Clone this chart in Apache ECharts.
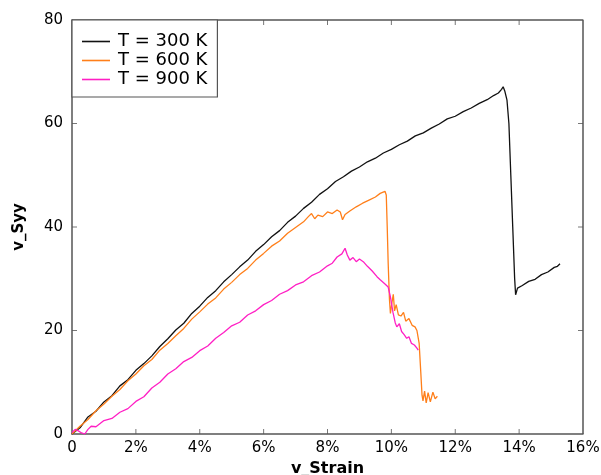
<!DOCTYPE html>
<html><head><meta charset="utf-8">
<script src="https://cdn.jsdelivr.net/npm/echarts@6/dist/echarts.min.js"></script>
<style>html,body{margin:0;padding:0;background:#fff}#c{width:601px;height:475px}</style>
</head><body><div id="c"></div>
<script>
const seriesNames = ['T = 300 K', 'T = 600 K', 'T = 900 K'];
const xTicks = [0, 2, 4, 6, 8, 10, 12, 14, 16];
const yTicks = [0, 20, 40, 60, 80];
const xRange = [0, 16];
const yRange = [0, 80];
// [strain %, Syy]
const t300 = [[0,0],[0.25,1.2],[0.5,3.3],[0.75,4.4],[1,6.2],[1.25,7.4],[1.5,9.3],[1.75,10.5],[2,12.3],[2.25,13.6],[2.5,15.1],[2.75,16.9],[3,18.4],[3.25,20.1],[3.5,21.4],[3.75,23.3],[4,24.7],[4.25,26.4],[4.5,27.7],[4.75,29.4],[5,30.8],[5.25,32.3],[5.5,33.6],[5.75,35.3],[6,36.6],[6.25,38.1],[6.5,39.3],[6.75,40.9],[7,42.1],[7.25,43.6],[7.5,44.8],[7.75,46.3],[8,47.4],[8.25,48.8],[8.5,49.7],[8.75,50.8],[9,51.6],[9.25,52.6],[9.5,53.3],[9.75,54.3],[10,55.0],[10.25,55.9],[10.5,56.6],[10.75,57.6],[11,58.2],[11.25,59.1],[11.5,59.9],[11.75,60.9],[12,61.4],[12.25,62.3],[12.5,63.0],[12.75,63.9],[13,64.6],[13.2,65.4],[13.35,65.9],[13.45,66.6],[13.5,67.1],[13.55,66.3],[13.62,64.5],[13.68,60],[13.74,50],[13.8,40],[13.86,30],[13.89,26.9],[13.95,28.2],[14.1,28.7],[14.3,29.5],[14.5,29.9],[14.7,30.8],[14.9,31.3],[15.1,32.2],[15.2,32.4],[15.28,32.9]];
const t600 = [[0,0],[0.25,1.5],[0.5,2.8],[0.75,4.5],[1,5.8],[1.25,7.3],[1.5,8.6],[1.75,10.3],[2,11.6],[2.25,13.2],[2.5,14.4],[2.75,16.2],[3,17.5],[3.25,19.0],[3.5,20.4],[3.75,22.2],[4,23.6],[4.25,25.1],[4.5,26.3],[4.75,28.0],[5,29.3],[5.25,30.8],[5.5,32.0],[5.75,33.6],[6,34.9],[6.25,36.3],[6.5,37.3],[6.75,38.8],[7,39.9],[7.25,41.0],[7.4,42.0],[7.5,42.6],[7.6,41.6],[7.7,42.3],[7.85,42.0],[8,42.9],[8.15,42.6],[8.3,43.3],[8.4,42.9],[8.47,41.4],[8.55,42.4],[8.7,43.1],[8.9,43.9],[9.1,44.6],[9.3,45.2],[9.5,45.8],[9.65,46.5],[9.8,46.9],[9.84,46.2],[9.87,40],[9.9,33],[9.94,26],[9.97,23.3],[10.02,25.5],[10.06,27.0],[10.1,23.8],[10.15,25.0],[10.22,23.0],[10.3,22.8],[10.38,23.5],[10.45,21.8],[10.55,22.3],[10.65,21.0],[10.74,20.7],[10.8,20.0],[10.87,17.5],[10.92,12],[10.96,7.5],[10.99,6.4],[11.04,8.3],[11.09,6.0],[11.15,8.0],[11.22,6.2],[11.3,8.1],[11.37,6.8],[11.44,7.3]];
const t900 = [[0,0.3],[0.1,0.9],[0.2,0.6],[0.3,0.2],[0.4,0],[0.5,0.9],[0.6,1.5],[0.75,1.4],[1,2.6],[1.25,3.0],[1.5,4.2],[1.75,4.9],[2,6.3],[2.25,7.2],[2.5,8.9],[2.75,10.0],[3,11.6],[3.25,12.6],[3.5,14.0],[3.75,14.8],[4,16.1],[4.25,17.0],[4.5,18.5],[4.75,19.6],[5,20.9],[5.25,21.6],[5.5,23.0],[5.75,23.8],[6,25.0],[6.25,25.8],[6.5,27.0],[6.75,27.7],[7,28.8],[7.25,29.4],[7.5,30.6],[7.75,31.3],[8,32.5],[8.15,33.0],[8.3,34.2],[8.45,34.8],[8.55,35.9],[8.62,34.6],[8.7,33.6],[8.8,34.1],[8.9,33.3],[9.0,33.8],[9.12,33.3],[9.25,32.4],[9.4,31.5],[9.55,30.4],[9.65,29.8],[9.8,29.0],[9.9,28.4],[9.97,26.5],[10.05,23.5],[10.12,21.5],[10.17,20.7],[10.25,21.3],[10.32,19.8],[10.4,19.2],[10.48,18.5],[10.55,18.8],[10.63,17.5],[10.72,17.2],[10.8,16.6],[10.84,16.2]];
const colors = ['#111111', '#ff7f1a', '#ff1fc4'];

const FONT = '"DejaVu Sans", sans-serif';
const FRAME = '#555555';
const chart = echarts.init(document.getElementById('c'));

// frame (top + right edges) and inward tick marks, placed through the axes
const frameSeries = {
  name: 'frame', type: 'line', silent: true, clip: false, showSymbol: false, symbol: 'none', z: 1,
  data: [[xRange[0], yRange[1]], [xRange[1], yRange[1]], [xRange[1], yRange[0]]],
  lineStyle: {color: FRAME, width: 1.5}, itemStyle: {color: FRAME}, tooltip: {show: false}
};
const tickSeries = (data, size, offset) => ({
  type: 'scatter', silent: true, clip: false, symbol: 'rect', symbolSize: size, symbolOffset: offset,
  data: data, itemStyle: {color: FRAME}, z: 1, tooltip: {show: false}
});

chart.setOption({
  animation: false,
  grid: {left: 72, right: 18, top: 20, bottom: 41, outerBoundsMode: 'none', containLabel: false},
  legend: {
    data: seriesNames, orient: 'vertical', left: 72, top: 20,
    itemWidth: 28, itemHeight: 1.6, itemGap: 0, icon: 'rect',
    padding: [12, 10, 8, 10],
    backgroundColor: '#fff', borderColor: FRAME, borderWidth: 1.2,
    textStyle: {fontFamily: FONT, fontSize: 18, color: '#000', lineHeight: 19, padding: [0, 0, 0, 3]}
  },
  xAxis: {type: 'value', min: xRange[0], max: xRange[1], interval: 2,
    axisLine: {show: true, onZero: false, lineStyle: {color: FRAME, width: 1.5}},
    axisTick: {show: false}, splitLine: {show: false},
    name: 'v_Strain', nameLocation: 'middle', nameGap: 27,
    nameTextStyle: {fontFamily: FONT, fontSize: 16, fontWeight: 'bold', color: '#000'},
    axisLabel: {fontFamily: FONT, fontSize: 15, color: '#000', margin: 7,
      formatter: v => (v === 0 ? '0' : v + '%')}},
  yAxis: {type: 'value', min: yRange[0], max: yRange[1], interval: 20,
    axisLine: {show: true, onZero: false, lineStyle: {color: FRAME, width: 1.5}},
    axisTick: {show: false}, splitLine: {show: false},
    name: 'v_Syy', nameLocation: 'middle', nameGap: 45,
    nameTextStyle: {fontFamily: FONT, fontSize: 15, fontWeight: 'bold', color: '#000'},
    axisLabel: {fontFamily: FONT, fontSize: 15, color: '#000', margin: 9}},
  series: [
    frameSeries,
    tickSeries(xTicks.slice(1, -1).map(v => [v, yRange[0]]), [1, 5], [0, -2.5]),
    tickSeries(xTicks.slice(1, -1).map(v => [v, yRange[1]]), [1, 5], [0, 2.5]),
    tickSeries(yTicks.slice(1, -1).map(v => [xRange[0], v]), [5, 1], [2.5, 0]),
    tickSeries(yTicks.slice(1, -1).map(v => [xRange[1], v]), [5, 1], [-2.5, 0])
  ].concat([t300, t600, t900].map((d, i) => ({
    name: seriesNames[i], type: 'line', data: d, showSymbol: false, symbol: 'none', z: 3,
    color: colors[i], lineStyle: {width: 1.3, color: colors[i]}
  })))
});
</script></body></html>
